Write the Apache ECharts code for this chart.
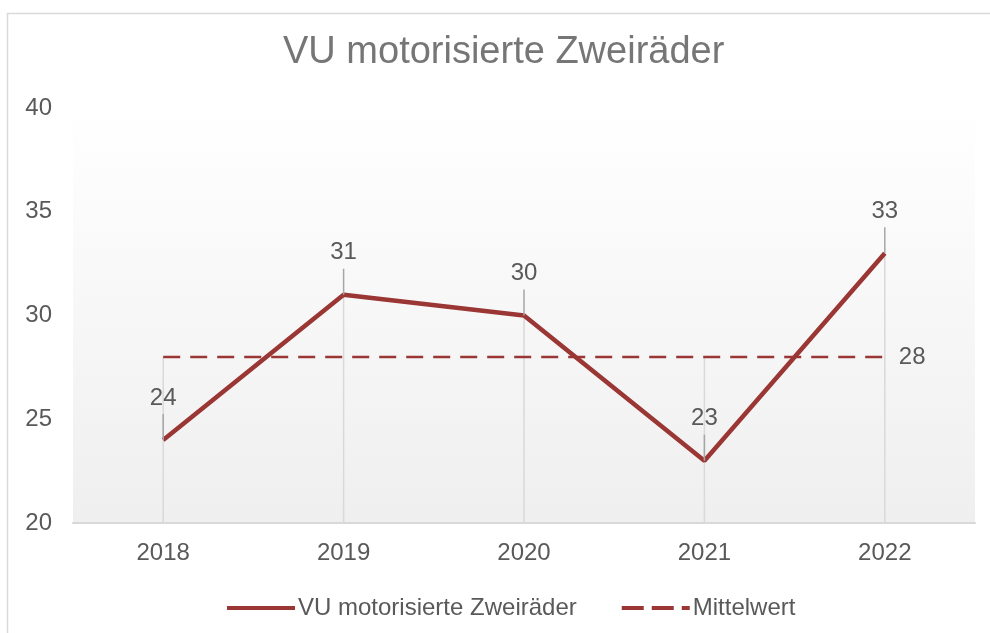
<!DOCTYPE html>
<html>
<head>
<meta charset="utf-8">
<script src="https://cdn.jsdelivr.net/npm/echarts@6/dist/echarts.min.js"></script>
<style>html,body{margin:0;padding:0;background:#fff;}#c{width:990px;height:633px;}</style>
</head>
<body>
<div id="c"></div>
<script>
const categories = ['2018', '2019', '2020', '2021', '2022'];
const values = [24, 31, 30, 23, 33];
const meanValues = [28, 28, 28, 28, 28];
const seriesNames = ['VU motorisierte Zweiräder', 'Mittelwert'];
const yMin = 20, yMax = 40, yInterval = 5;

const FONT = 'Liberation Sans, Arial, sans-serif';
const RED = '#9A3634';
const TXT = '#595959';
const chart = echarts.init(document.getElementById('c'), null, {renderer: 'canvas'});

const dropData = categories.map((c, i) => [i, Math.max(values[i], meanValues[i])]);
const labelData = values.map((v, i) => [i, v]);

chart.setOption({
  animation: false,
  backgroundColor: '#fff',
  textStyle: {fontFamily: FONT},
  graphic: [{
    type: 'rect', left: 5, top: 11, silent: true,
    shape: {width: 1100, height: 800},
    style: {fill: 'none', stroke: '#d9d9d9', lineWidth: 1.5}
  }],
  title: {
    text: 'VU motorisierte Zweiräder',
    left: 278, top: 29,
    textStyle: {fontSize: 38, fontWeight: 'normal', color: '#767676', fontFamily: FONT}
  },
  legend: {
    data: [
      {name: seriesNames[0], icon: 'path://M0,0h68v4h-68z'},
      {name: seriesNames[1], icon: 'path://M0,0h22v4h-22z M30,0h22v4h-22z M60,0h8v4h-8z'}
    ],
    top: 591, left: 222,
    itemWidth: 68, itemHeight: 4, itemGap: 45,
    textStyle: {fontSize: 24, color: TXT, fontFamily: FONT, padding: [0, 0, 0, -2]}
  },
  grid: {
    left: 73, right: 15, top: 108, bottom: 110,
    show: true, borderWidth: 0,
    backgroundColor: new echarts.graphic.LinearGradient(0, 0, 0, 1, [
      {offset: 0, color: '#ffffff'},
      {offset: 1, color: '#efefef'}
    ])
  },
  xAxis: {
    type: 'category', data: categories, boundaryGap: true,
    axisLine: {lineStyle: {color: '#d9d9d9', width: 2}},
    axisTick: {show: false},
    axisLabel: {fontSize: 24, color: TXT, margin: 18, fontFamily: FONT},
    splitLine: {show: false}
  },
  yAxis: {
    type: 'value', min: yMin, max: yMax, interval: yInterval,
    axisLine: {show: false}, axisTick: {show: false},
    splitLine: {show: false},
    axisLabel: {fontSize: 24, color: TXT, margin: 21, fontFamily: FONT}
  },
  series: [
    {
      type: 'custom', silent: true, z: 1,
      data: dropData, encode: {x: 0, y: 1},
      renderItem: function (params, api) {
        const p1 = api.coord([api.value(0), api.value(1)]);
        const p0 = api.coord([api.value(0), yMin]);
        return {type: 'line', shape: {x1: p1[0], y1: p1[1], x2: p0[0], y2: p0[1]},
          style: {stroke: '#d9d9d9', lineWidth: 1.5}};
      }
    },
    {
      name: seriesNames[1], type: 'line', data: meanValues, z: 3,
      symbol: 'none', silent: true,
      lineStyle: {color: RED, width: 2.5, type: [17, 10]},
      itemStyle: {color: RED},
      endLabel: {
        show: true, distance: 14, fontSize: 24, color: TXT, fontFamily: FONT,
        formatter: p => String(p.value)
      }
    },
    {
      name: seriesNames[0], type: 'line', data: values, z: 4,
      symbol: 'none', silent: true,
      lineStyle: {color: RED, width: 4.5},
      itemStyle: {color: RED}
    },
    {
      type: 'custom', silent: true, z: 5,
      data: labelData, encode: {x: 0, y: 1},
      renderItem: function (params, api) {
        const p = api.coord([api.value(0), api.value(1)]);
        return {
          type: 'group',
          children: [
            {type: 'line', shape: {x1: p[0], y1: p[1], x2: p[0], y2: p[1] - 26},
              style: {stroke: '#a6a6a6', lineWidth: 1.5}},
            {type: 'text', x: p[0], y: p[1] - 42,
              style: {text: String(api.value(1)), fontSize: 24, fill: TXT, fontFamily: FONT,
                align: 'center', verticalAlign: 'middle'}}
          ]
        };
      }
    }
  ]
});
</script>
</body>
</html>
